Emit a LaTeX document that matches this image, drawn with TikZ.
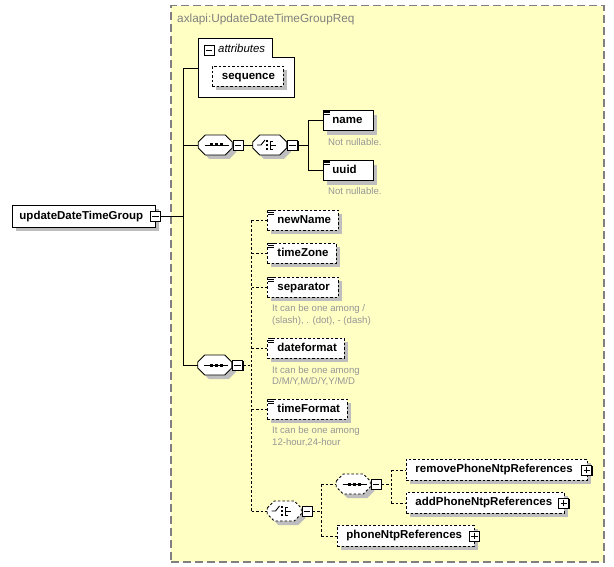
\documentclass[tikz,border=0pt]{standalone}
\usepackage{fontspec}
\setmainfont{Liberation Sans}
\usetikzlibrary{calc,shadows}
\definecolor{grpbg}{RGB}{255,255,196}
\definecolor{grpln}{RGB}{128,128,128}
\definecolor{shd}{RGB}{190,190,190}
\definecolor{cmtc}{RGB}{150,150,150}
% name, x, y, w, h, pad, text, style
\newcommand\ebx[8]{%
  \pgfmathsetmacro\ebxtw{#4-2*#6}%
  \node[ebase,#8,anchor=north west,minimum width=#4pt,minimum height=#5pt,text width=\ebxtw pt] (#1) at (#2,#3) {#7};}
\newcommand\eicon[1]{\foreach \k in {0.4,2.2,4.0}{\draw[line width=.6pt] ($(#1.north west)+(1.2,\k)$) -- ++(5.8,0);}}
\newcommand\minusbox[2]{\node[pm] (#1) at #2 {}; \draw[line width=.9pt] ($(#1.west)+(2.2,0)$) -- ($(#1.east)+(-2.2,0)$);}
\newcommand\plusbox[2]{\node[pm] (#1) at #2 {}; \draw[line width=.9pt] ($(#1.west)+(2.2,0)$) -- ($(#1.east)+(-2.2,0)$) ($(#1.north)+(0,2.2)$) -- ($(#1.south)+(0,-2.2)$);}
\newcommand\octa[2]{\draw[line width=.8pt, fill=white, shdw, #2] ($(#1.west)+(0,-3)$) -- ++(7,-7) -- ++(20,0) -- ++(7,7) -- ++(0,6) -- ++(-7,7) -- ++(-20,0) -- ++(-7,-7) -- cycle;}
\newcommand\seqicon[1]{\draw[line width=.9pt] ($(#1)+(-11,0)$) -- ($(#1)+(13,0)$);
  \foreach \d in {-4,1,6}{\fill ($(#1)+(\d-1.5,-1.5)$) rectangle ++(3,3);}}
\newcommand\choiceicon[1]{\draw[line width=.9pt] ($(#1)+(-13,0)$) -- ($(#1)+(-9,0)$) -- ($(#1)+(-5,-5)$);
  \foreach \d in {-4,0,4}{\fill ($(#1)+(-4,\d-1.2)$) rectangle ++(2.4,2.4);}
  \draw[line width=.9pt] ($(#1)+(3,-4)$) -- ($(#1)+(0.5,-4)$) -- ($(#1)+(0.5,4)$) -- ($(#1)+(3,4)$) ($(#1)+(0.5,0)$) -- ($(#1)+(6,0)$);}
\begin{document}
\begin{tikzpicture}[x=1pt,y=-1pt,
  shdw/.style={drop shadow={shadow xshift=4pt, shadow yshift=-4pt, fill=shd, opacity=1}},
  ln/.style={line width=0.9pt},
  dln/.style={line width=0.9pt, dash pattern=on 2.5pt off 2pt},
  optb/.style={dash pattern=on 2.5pt off 2pt},
  ebase/.style={draw, fill=white, line width=0.9pt, inner ysep=0pt, align=left,
    font=\fontsize{11.5}{13}\selectfont\bfseries, text height=8.5pt, text depth=2.5pt, shdw},
  pm/.style={draw, fill=white, line width=0.9pt, minimum size=10pt, inner sep=0pt,
    drop shadow={shadow xshift=1pt, shadow yshift=-1pt, fill=black, opacity=1}},
  oct/.style={draw=none, minimum width=34pt, minimum height=20pt, inner sep=0pt},
  cmt/.style={text=cmtc, font=\fontsize{9.6}{11}\selectfont, anchor=base west, inner sep=0pt}]
\useasboundingbox (0,0) rectangle (614,567);

% group
\node[draw=grpln, fill=grpbg, line width=1.5pt, dash pattern=on 8pt off 4pt,
  minimum width=433pt, minimum height=556pt, inner sep=0pt, anchor=north west] (grp) at (170,5) {};
\node[anchor=base west, text=grpln, font=\fontsize{11.8}{14}\selectfont, inner sep=0pt] (ttl) at (177,22.5) {axlapi:UpdateDateTimeGroupReq};

% attributes
\draw[line width=.9pt, fill=white] (198,38) -- (272,38) -- (272,57) -- (294,57) -- (294,97) -- (198,97) -- cycle;
\coordinate (attrw) at (198,68);
\minusbox{amin}{(209,50)}
\node[anchor=base west, inner sep=0pt, font=\fontsize{11.4}{13}\selectfont\itshape] (atxt) at (218,52.5) {attributes};
\ebx{seqa}{212}{66}{71}{20}{9.5}{sequence}{optb}

% main element
\ebx{main}{12}{205}{143}{22}{7}{updateDateTimeGroup}{}
\minusbox{mmin}{($(main.east)+(-0.5,0)$)}

% compositors
\node[oct] (s1) at (215.5,145) {};
\octa{s1}{}
\seqicon{s1}
\minusbox{sm1}{($(s1.east)+(5.5,0)$)}
\node[oct] (c1) at (270,145) {};
\octa{c1}{}
\choiceicon{c1}
\minusbox{cm1}{($(c1.east)+(5.5,0)$)}

\ebx{name}{323}{110.5}{50}{20}{9}{name}{}
\eicon{name}
\node[cmt] (nn1) at (328,146) {Not nullable.};
\ebx{uuid}{323}{160.5}{50}{20}{9}{uuid}{}
\eicon{uuid}
\node[cmt] (nn2) at (328,195) {Not nullable.};

\node[oct] (s2) at (215,365) {};
\octa{s2}{}
\seqicon{s2}
\minusbox{sm2}{($(s2.east)+(5.5,0)$)}

\ebx{newName}{267}{210}{71}{20}{10}{newName}{optb}
\eicon{newName}
\ebx{timeZone}{267}{243}{69}{20}{10}{timeZone}{optb}
\eicon{timeZone}
\ebx{separator}{267}{277}{71}{20}{10}{separator}{optb}
\eicon{separator}
\node[cmt] (sc1) at (272,312) {It can be one among /};
\node[cmt] (sc2) at (272,323.5) {(slash), . (dot), - (dash)};
\ebx{dateformat}{267}{338}{77}{20}{10}{dateformat}{optb}
\eicon{dateformat}
\node[cmt] (dc1) at (272,373) {It can be one among};
\node[cmt] (dc2) at (272,384.5) {D/M/Y,M/D/Y,Y/M/D};
\ebx{timeFormat}{267}{399}{80}{20}{10}{timeFormat}{optb}
\eicon{timeFormat}
\node[cmt] (tc1) at (272,433.5) {It can be one among};
\node[cmt] (tc2) at (272,445) {12-hour,24-hour};

\node[oct] (c2) at (284.5,511) {};
\octa{c2}{optb}
\choiceicon{c2}
\minusbox{cm2}{($(c2.east)+(5.5,0)$)}

\node[oct] (s3) at (353.5,484) {};
\octa{s3}{optb}
\seqicon{s3}
\minusbox{sm3}{($(s3.east)+(5.5,0)$)}

\ebx{rem}{406}{459}{181}{21}{9}{removePhoneNtpReferences}{optb}
\plusbox{rp}{($(rem.east)+(-1,0)$)}
\ebx{add}{406}{492}{158}{21}{9}{addPhoneNtpReferences}{optb}
\plusbox{ap}{($(add.east)+(-1,0)$)}
\ebx{pnr}{337}{525}{137}{21}{9}{phoneNtpReferences}{optb}
\plusbox{pp}{($(pnr.east)+(-0.5,0)$)}

% connectors
\coordinate (sp1) at (183,68);
\coordinate (sp2) at (183,365);
\draw[ln] (mmin.east) -- (mmin.east -| sp1);
\draw[ln] (sp1) -- (sp2);
\draw[ln] (sp1) -- (attrw);
\draw[ln] (s1.west -| sp1) -- (s1.west);
\draw[ln] (s2.west -| sp1) -- (s2.west);
\draw[ln] (sm1.east) -- (c1.west);
\draw[ln] (cm1.east) -- ++(10,0) coordinate (cb1);
\draw[ln] (cb1 |- name.west) -- (cb1 |- uuid.west);
\draw[ln] (cb1 |- name.west) -- (name.west);
\draw[ln] (cb1 |- uuid.west) -- (uuid.west);

\draw[dln] (sm2.east) -- ++(8.5,0) coordinate (cb2);
\draw[dln] (cb2 |- newName.west) -- (cb2 |- c2.west);
\foreach \n in {newName,timeZone,separator,dateformat,timeFormat}{\draw[dln] (cb2 |- \n.west) -- (\n.west);}
\draw[dln] (cb2 |- c2.west) -- (c2.west);
\draw[dln] (cm2.east) -- ++(8.5,0) coordinate (cb3);
\draw[dln] (cb3 |- s3.west) -- (cb3 |- pnr.west);
\draw[dln] (cb3 |- s3.west) -- (s3.west);
\draw[dln] (cb3 |- pnr.west) -- (pnr.west);
\draw[dln] (sm3.east) -- ++(9.5,0) coordinate (cb4);
\draw[dln] (cb4 |- rem.west) -- (cb4 |- add.west);
\draw[dln] (cb4 |- rem.west) -- (rem.west);
\draw[dln] (cb4 |- add.west) -- (add.west);
\end{tikzpicture}
\end{document}
